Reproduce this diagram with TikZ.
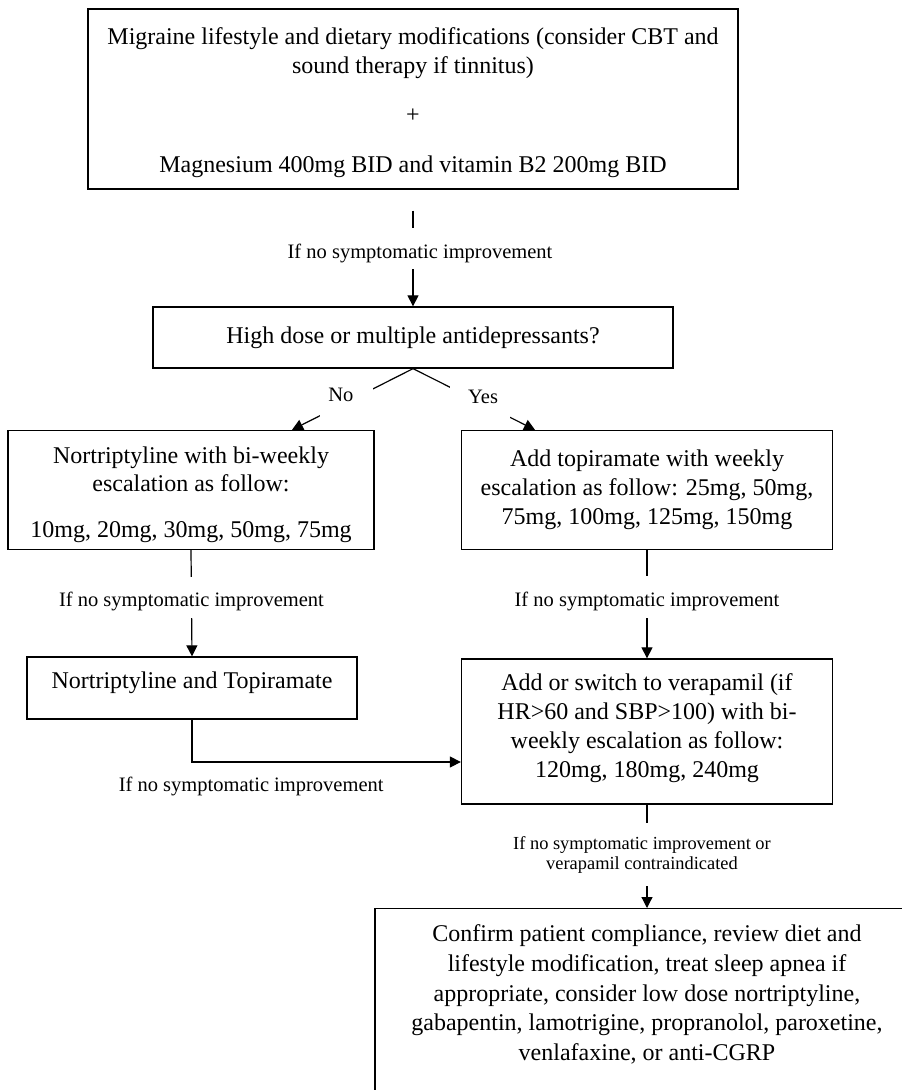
\documentclass[tikz,border=0pt]{standalone}
\usepackage{fontspec}
\setmainfont{Liberation Serif}
\usetikzlibrary{arrows.meta}
\tikzset{
  bfont/.style={font=\fontsize{24}{29}\selectfont},
  box/.style={draw, line width=1.3pt, align=center, inner sep=0pt, bfont},
  conn/.style={line width=1.2pt},
  arr/.style={conn, -{Triangle[length=11pt,width=11pt]}},
  lbl/.style={fill=white, inner sep=0pt, text height=20pt, text depth=1pt,
              font=\fontsize{20.5}{24}\selectfont},
  slbl/.style={fill=white, inner sep=0pt, align=center, font=\fontsize{18.4}{20.5}\selectfont},
  mask/.style={fill=white, inner sep=0pt},
  yn/.style={font=\fontsize{20.5}{24}\selectfont},
}
\begin{document}
\begin{tikzpicture}[x=1pt,y=-1pt]
\useasboundingbox (0,0) rectangle (902,1090);
\clip (0,0) rectangle (902,1090);

\node[box, minimum width=650pt, minimum height=180pt] (top) at (413,99)
  {\rule{0pt}{24pt}Migraine lifestyle and dietary modifications (consider CBT and\\[0pt]
   sound therapy if tinnitus)\\[20pt] +\\[21pt]
   Magnesium 400mg BID and vitamin B2 200mg BID};

\node[box, minimum width=520pt, minimum height=61pt] (dec) at (413,337.5)
  {High dose or multiple antidepressants?};

\node[box, minimum width=366pt, minimum height=119pt] (nort) at (191,490)
  {\rule{0pt}{27pt}Nortriptyline with bi-weekly\\[-1pt] escalation as follow:\\[17pt]
   10mg, 20mg, 30mg, 50mg, 75mg};

\node[box, minimum width=371pt, minimum height=119pt] (topi) at (647,490)
  {Add topiramate with weekly\\ escalation as follow: 25mg, 50mg,\\
   75mg, 100mg, 125mg, 150mg};

\node[box, minimum width=330pt, minimum height=62pt,
  label={[bfont, yshift=5pt]center:Nortriptyline and Topiramate}] (nortopi) at (192,688) {};

\node[box, minimum width=371pt, minimum height=145pt] (verap) at (647,731.5)
  {Add or switch to verapamil (if\\ HR>60 and SBP>100) with bi-\\
   weekly escalation as follow:\\ 120mg, 180mg, 240mg\rule[-11pt]{0pt}{1pt}};

\node[box, anchor=north, inner ysep=16pt, minimum width=544pt,
  font=\fontsize{24}{29.8}\selectfont] (final) at (647,908)
  {Confirm patient compliance, review diet and\\
   lifestyle modification, treat sleep apnea if\\
   appropriate, consider low dose nortriptyline,\\
   gabapentin, lamotrigine, propranolol, paroxetine,\\
   venlafaxine, or anti-CGRP\\ \mbox{}};

% connectors
\draw[arr, shorten <=21pt] (top.south) --
  node[mask, pos=0.508, minimum height=41pt, minimum width=60pt,
       label={[lbl, fill=none, xshift=7pt]center:If no symptomatic improvement}] (l1) {}
  (dec.north);

\draw[arr] (dec.south) --
  node[mask, pos=0.55, minimum width=53pt, minimum height=30pt,
       label={[yn, xshift=-5.5pt, yshift=7pt]center:No}] (no) {}
  ([xshift=101pt]nort.north);

\draw[arr] (dec.south) --
  node[mask, pos=0.55, minimum width=60pt, minimum height=32pt,
       label={[yn, xshift=3pt, yshift=5pt]center:Yes}] (yes) {}
  ([xshift=-112pt]topi.north);

\draw[arr] (nort.south) --
  node[lbl, pos=0.444, minimum height=41pt] (l2) {If no symptomatic improvement} (nortopi.north);

\draw[arr] (topi.south) --
  node[lbl, pos=0.43, minimum height=42pt] (l3) {If no symptomatic improvement} (verap.north);

\draw[arr] (nortopi.south) |-
  node[lbl, fill=none, pos=0.61, yshift=-20pt] (l4) {If no symptomatic improvement}
  ([yshift=-30.5pt]verap.west);

\draw[arr] (verap.south) --
  node[slbl, pos=0.486, minimum height=63pt, minimum width=290pt,
       label={[slbl, fill=none, xshift=-5pt]center:If no symptomatic improvement or\\ verapamil contraindicated}] (l5) {}
  (final.north);
\end{tikzpicture}
\end{document}
